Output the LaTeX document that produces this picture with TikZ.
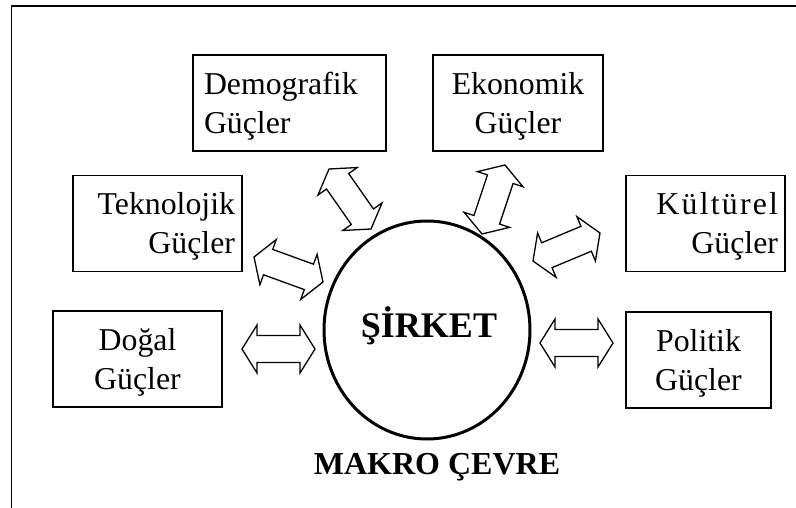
\documentclass[tikz,border=0pt]{standalone}
\usepackage{fontspec}
\setmainfont{Liberation Serif}
\usetikzlibrary{calc,shapes.geometric}

% Outlined two-headed block arrow between two named points
\newcommand\dblarrow[2]{%
  \draw[blockarrow] (#1)
    -- ($(#1)!15pt!(#2)!24pt!90:(#2)$)
    -- ($(#1)!15pt!(#2)!13.5pt!90:(#2)$)
    -- ($(#2)!15pt!(#1)!13.5pt!-90:(#1)$)
    -- ($(#2)!15pt!(#1)!24pt!-90:(#1)$)
    -- (#2)
    -- ($(#2)!15pt!(#1)!24pt!90:(#1)$)
    -- ($(#2)!15pt!(#1)!13.5pt!90:(#1)$)
    -- ($(#1)!15pt!(#2)!13.5pt!-90:(#2)$)
    -- ($(#1)!15pt!(#2)!24pt!-90:(#2)$)
    -- cycle;}
% strut that lowers the first line of a box label a little
\newcommand\firstline{\rule{0pt}{28pt}}
% slightly tracked word
\newcommand\tracked[2]{{\addfontfeatures{LetterSpace=#1}#2}}

\begin{document}
\begin{tikzpicture}[x=1pt,y=-1pt,
  forcebox/.style={draw, line width=1.2pt, inner ysep=0pt, minimum height=96pt,
    font=\fontsize{31.8}{39}\selectfont},
  blockarrow/.style={draw, line width=1.3pt, line join=miter, fill=white},
  frameline/.style={line width=1.3pt},
  company/.style={draw, ellipse, line width=3pt, minimum width=206pt, minimum height=218pt,
    inner sep=0pt},
  bigbold/.style={font=\fontsize{36}{40}\selectfont\bfseries, inner sep=0pt},
  caption/.style={font=\fontsize{32}{39}\selectfont\bfseries, inner sep=0pt}]
\useasboundingbox (0,0) rectangle (796,508);

% open frame: top and left edges
\draw[frameline] (11.5,508) coordinate (frameBL) -- (11.5,6) coordinate (frameTL) -- (796,6) coordinate (frameTR);

% the surrounding forces
\node[forcebox, text width=171pt, inner xsep=11pt, align=left]   (demo)  at (289.5,103)   {\firstline Demografik\\Güçler};
\node[forcebox, text width=160pt, inner xsep=5pt,  align=center] (eko)   at (518,103)     {\firstline Ekonomik\\Güçler};
\node[forcebox, text width=155pt, inner xsep=7pt,  align=right]  (tekno) at (157.5,223.5) {\firstline Teknolojik\\Güçler};
\node[forcebox, text width=145pt, inner xsep=7pt,  align=right]  (kult)  at (705.5,223.5) {\firstline\tracked{7}{Kültürel}\hspace{-2.2pt}\\Güçler};
\node[forcebox, text width=159pt, inner xsep=5pt,  align=center] (dogal) at (137.5,359)   {\firstline Doğal\\Güçler};
\node[forcebox, text width=135pt, inner xsep=5pt,  align=center] (polit) at (698.5,360)   {\firstline Politik\\Güçler};

% the company
\node[company] (sirket) at (427,330) {};
\node[bigbold] (sirketlabel) at (429,326) {ŞİRKET};

% caption
\node[caption] (makro) at (437,467) {MAKRO ÇEVRE};

% arrow end points
\coordinate (dogalA) at (242,349);  \coordinate (dogalB) at (315,349);
\coordinate (politA) at (540,343);  \coordinate (politB) at (613,343);
\coordinate (demoA)  at (329,169);  \coordinate (demoB)  at (371,229);
\coordinate (teknoA) at (254,257);  \coordinate (teknoB) at (323,282);
\coordinate (ekoA)   at (505,165);  \coordinate (ekoB)   at (482,234);
\coordinate (kultA)  at (600,233);  \coordinate (kultB)  at (533,261);

% two-way influences
\dblarrow{dogalA}{dogalB}
\dblarrow{politA}{politB}
\dblarrow{demoA}{demoB}
\dblarrow{teknoA}{teknoB}
\dblarrow{ekoA}{ekoB}
\dblarrow{kultA}{kultB}
\end{tikzpicture}
\end{document}
